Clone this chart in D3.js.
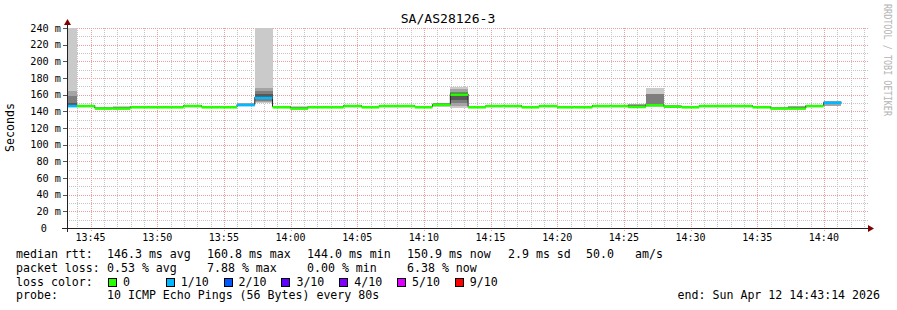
<!DOCTYPE html>
<html>
<head>
<meta charset="utf-8">
<script src="https://cdn.jsdelivr.net/npm/d3@7"></script>
<style>
html, body { margin: 0; padding: 0; background: #fff; }
svg { display: block; }
text { font-family: "DejaVu Sans Mono", monospace; fill: #000; }
</style>
</head>
<body>
<svg id="chart"></svg>
<script>
const title = "SA/AS28126-3"
const rangeEnd = new Date(2026, 3, 12, 14, 43, 14)
const firstStepStart = new Date(2026, 3, 12, 13, 42, 39)
const stepSeconds = 80

// median rtt per 80s step (ms)
const medians = [147.0, 147.0, 144.0, 144.0, 145.6, 145.6, 145.6, 147.0, 145.6, 145.6,
                 148.2, 156.8, 145.6, 144.0, 145.6, 145.6, 147.0, 145.6, 147.0, 147.0,
                 145.6, 148.5, 160.8, 145.6, 147.0, 147.0, 145.6, 147.0, 145.6, 145.6,
                 147.0, 147.0, 146.0, 148.0, 146.3, 145.6, 147.0, 147.0, 147.0, 145.6,
                 144.0, 144.0, 147.0, 150.9]
// lost pings per step (out of 10)
const losses = [1, 0, 0, 0, 0, 0, 0, 0, 0, 0,
                1, 1, 0, 0, 0, 0, 0, 0, 0, 0,
                0, 0, 0, 0, 0, 0, 0, 0, 0, 0,
                0, 0, 0, 0, 0, 0, 0, 0, 0, 0,
                0, 0, 0, 1]
// steps with visible smoke and their sorted ping times (ms)
const smokeSteps = [0, 3, 10, 11, 13, 21, 22, 32, 33, 41, 43]
const smokePings = [
  [145.5, 146.0, 146.5, 146.8, 147.0, 147.6, 150.6, 157.9, 164.6, 300],
  [143.6, 143.8, 143.9, 144.0, 144.0, 144.0, 144.1, 144.3, 145.0, 146.0],
  [146.5, 147.2, 147.6, 148.0, 148.2, 148.4, 148.8, 149.2, 149.6, 150.0],
  [150.2, 150.8, 152.5, 154.6, 156.4, 157.3, 160.6, 164.6, 167.9, 300],
  [143.6, 143.8, 143.9, 144.0, 144.0, 144.0, 144.1, 144.3, 145.0, 146.5],
  [145.4, 145.9, 146.6, 147.6, 148.3, 148.6, 148.9, 149.2, 149.5, 149.8],
  [144.0, 146.4, 149.7, 153.6, 160.0, 161.6, 162.2, 162.8, 166.6, 169.8],
  [145.2, 145.5, 145.8, 146.0, 146.0, 146.1, 146.4, 147.5, 148.3, 149.0],
  [145.5, 146.0, 146.5, 147.0, 147.8, 148.2, 149.3, 161.2, 161.3, 168.5],
  [143.6, 143.8, 144.0, 144.0, 144.0, 144.0, 144.2, 145.0, 146.0, 146.6],
  [146.0, 146.8, 148.5, 149.6, 150.6, 151.2, 151.4, 151.6, 151.8, 152.0]
]
const smokeGrays = ["#cacaca", "#a4a4a4", "#7e7e7e", "#585858", "#323232"]

const yMajor = [0, 20, 40, 60, 80, 100, 120, 140, 160, 180, 200, 220, 240]
const yMinor = [10, 30, 50, 70, 90, 110, 130, 150, 170, 190, 210, 230]

const lossLabels = ["0", "1/10", "2/10", "3/10", "4/10", "5/10", "9/10"]
const lossColors = ["#26ff00", "#00b8ff", "#0059ff", "#5e00ff", "#7e00ff", "#dd00ff", "#ff0000"]

const rttStats = ["146.3 ms avg", "160.8 ms max", "144.0 ms min", "150.9 ms now", "2.9 ms sd", "50.0", "am/s"]
const lossStats = ["0.53 % avg", "7.88 % max", "0.00 % min", "6.38 % now"]
const probeText = "10 ICMP Echo Pings (56 Bytes) every 80s"
const endText = "end: Sun Apr 12 14:43:14 2026"

const W = 897, H = 310
const pLeft = 67, pRight = 867, pTop = 28, pBottom = 228

const svg = d3.select("#chart").attr("width", W).attr("height", H)
svg.append("rect").attr("width", W).attr("height", H).attr("fill", "#fff")

const x = d3.scaleTime()
  .domain([new Date(+rangeEnd - 3600 * 1000), rangeEnd])
  .range([pLeft, pRight])
const y = d3.scaleLinear().domain([0, 240]).range([pBottom, pTop])

const stepStart = i => new Date(+firstStepStart + i * stepSeconds * 1000)
const stepEnd = i => new Date(+firstStepStart + (i + 1) * stepSeconds * 1000)

// grid
const grid = svg.append("g").attr("shape-rendering", "crispEdges")
const minGray = "#c4c4c4", majRed = "#eba0a0"

grid.selectAll(".vmin")
  .data(x.ticks(d3.timeMinute.every(1)).filter(d => d.getMinutes() % 5 !== 0))
  .enter().append("line")
  .attr("x1", d => Math.round(x(d)) + 0.5).attr("x2", d => Math.round(x(d)) + 0.5)
  .attr("y1", pTop).attr("y2", pBottom)
  .attr("stroke", minGray).attr("stroke-dasharray", "1,1")

grid.selectAll(".hmin")
  .data(yMinor)
  .enter().append("line")
  .attr("x1", pLeft).attr("x2", pRight + 2)
  .attr("y1", d => Math.round(y(d)) + 0.5).attr("y2", d => Math.round(y(d)) + 0.5)
  .attr("stroke", minGray).attr("stroke-dasharray", "1,1")

grid.selectAll(".vmaj")
  .data(x.ticks(d3.timeMinute.every(5)))
  .enter().append("line")
  .attr("x1", d => Math.round(x(d)) + 0.5).attr("x2", d => Math.round(x(d)) + 0.5)
  .attr("y1", pTop).attr("y2", pBottom + 3)
  .attr("stroke", majRed).attr("stroke-dasharray", "1,1")

grid.selectAll(".hmaj")
  .data(yMajor.filter(d => d > 0))
  .enter().append("line")
  .attr("x1", pLeft - 4).attr("x2", pRight + 2)
  .attr("y1", d => Math.round(y(d)) + 0.5).attr("y2", d => Math.round(y(d)) + 0.5)
  .attr("stroke", majRed).attr("stroke-dasharray", "1,1")

// small ticks on the y axis
grid.selectAll(".ytick")
  .data(yMajor.filter(d => d > 0))
  .enter().append("line")
  .attr("x1", pLeft - 4).attr("x2", pLeft)
  .attr("y1", d => Math.round(y(d)) + 0.5).attr("y2", d => Math.round(y(d)) + 0.5)
  .attr("stroke", "#555")

// data
svg.append("clipPath").attr("id", "clip")
  .append("rect").attr("x", pLeft).attr("y", pTop).attr("width", pRight - pLeft).attr("height", pBottom - pTop)
const plot = svg.append("g").attr("clip-path", "url(#clip)")

smokeSteps.forEach((s, k) => {
  const p = smokePings[k]
  for (let i = 0; i < 5; i++) {
    const lo = p[i], hi = p[9 - i]
    plot.append("rect")
      .attr("x", x(stepStart(s)))
      .attr("width", x(stepEnd(s)) - x(stepStart(s)))
      .attr("y", y(hi))
      .attr("height", y(lo) - y(hi))
      .attr("fill", smokeGrays[i])
      .attr("shape-rendering", "crispEdges")
  }
})

const stepPoints = medians.map((m, i) => [stepStart(i), m])
stepPoints.push([stepEnd(medians.length - 1), medians[medians.length - 1]])
const medLine = d3.line()
  .x(d => x(d[0])).y(d => y(d[1]))
  .curve(d3.curveStepAfter)

plot.append("path")
  .attr("d", medLine(stepPoints))
  .attr("fill", "none").attr("stroke", "#202020").attr("stroke-width", 1)

plot.selectAll(".med")
  .data(medians)
  .enter().append("line")
  .attr("x1", (d, i) => x(stepStart(i)))
  .attr("x2", (d, i) => x(stepEnd(i)))
  .attr("y1", d => y(d) + 0.6).attr("y2", d => y(d) + 0.6)
  .attr("stroke", (d, i) => lossColors[losses[i]])
  .attr("stroke-width", 2.6)

// axes
const ax = svg.append("g").attr("shape-rendering", "crispEdges")
ax.append("line").attr("x1", pLeft - 5).attr("x2", pRight + 2).attr("y1", pBottom + 0.5).attr("y2", pBottom + 0.5).attr("stroke", "#222")
ax.append("line").attr("x1", pLeft + 0.5).attr("x2", pLeft + 0.5).attr("y1", pBottom + 4).attr("y2", pTop - 4).attr("stroke", "#222")
svg.append("path").attr("d", `M${pLeft - 3},${pTop - 3} L${pLeft + 0.5},${pTop - 9} L${pLeft + 4},${pTop - 3} Z`).attr("fill", "#7f0000")
svg.append("path").attr("d", `M${pRight + 1},${pBottom - 3} L${pRight + 7},${pBottom + 0.5} L${pRight + 1},${pBottom + 4} Z`).attr("fill", "#7f0000")

// axis labels
svg.selectAll(".ylab")
  .data(yMajor)
  .enter().append("text")
  .attr("x", d => d === 0 ? 47 : 61)
  .attr("y", d => y(d) + 3.5)
  .attr("text-anchor", "end")
  .attr("font-size", 10.2)
  .text(d => d === 0 ? "0" : d + " m")

svg.selectAll(".xlab")
  .data(x.ticks(d3.timeMinute.every(5)))
  .enter().append("text")
  .attr("x", d => x(d))
  .attr("y", 241)
  .attr("text-anchor", "middle")
  .attr("font-size", 10)
  .text(d3.timeFormat("%H:%M"))

svg.append("text")
  .attr("x", 448).attr("y", 23)
  .attr("text-anchor", "middle").attr("font-size", 13.1)
  .text(title)

svg.append("text")
  .attr("transform", "translate(14,127.5) rotate(-90)")
  .attr("text-anchor", "middle").attr("font-size", 11.6)
  .text("Seconds")

svg.append("text")
  .attr("transform", "translate(884,4) rotate(90)")
  .attr("font-size", 11).attr("textLength", 112).attr("lengthAdjust", "spacingAndGlyphs")
  .style("fill", "#b4b4b4")
  .text("RRDTOOL / TOBI OETIKER")

// legend
const lg = svg.append("g").attr("font-size", 11.6)
const statX = [107, 207, 307, 407, 508, 586, 635]
lg.append("text").attr("x", 16).attr("y", 258).text("median rtt:")
lg.selectAll(".rtt").data(rttStats).enter().append("text")
  .attr("x", (d, i) => statX[i]).attr("y", 258).text(d => d)

const lossX = [107, 207, 307, 407]
lg.append("text").attr("x", 16).attr("y", 272).text("packet loss:")
lg.selectAll(".loss").data(lossStats).enter().append("text")
  .attr("x", (d, i) => lossX[i]).attr("y", 272).text(d => d)

lg.append("text").attr("x", 16).attr("y", 285.5).text("loss color:")
const sw = lg.selectAll(".sw").data(lossLabels).enter().append("g")
  .attr("transform", (d, i) => `translate(${108 + i * 57.8},278)`)
sw.append("rect").attr("x", 0.5).attr("y", 0.5).attr("width", 8).attr("height", 8)
  .attr("fill", (d, i) => lossColors[i]).attr("stroke", "#000").attr("shape-rendering", "crispEdges")
sw.append("text").attr("x", 15).attr("y", 7.5).text(d => d)

lg.append("text").attr("x", 16).attr("y", 299).text("probe:")
lg.append("text").attr("x", 107).attr("y", 299).text(probeText)
lg.append("text").attr("x", 880).attr("y", 299).attr("text-anchor", "end").text(endText)
</script>
</body>
</html>
